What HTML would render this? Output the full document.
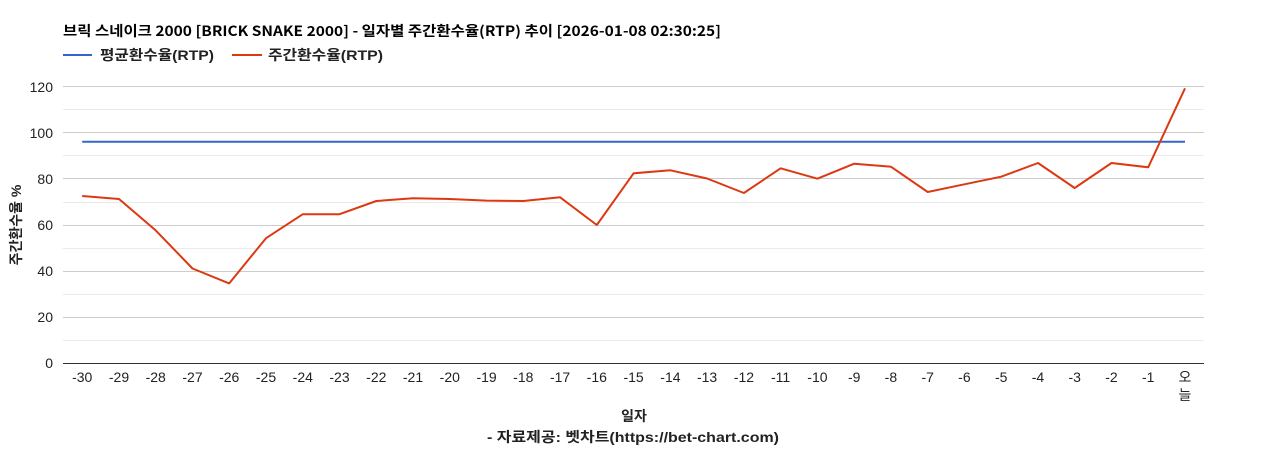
<!DOCTYPE html>
<html><head><meta charset="utf-8"><style>
html,body{margin:0;padding:0;background:#fff;width:1268px;height:450px;overflow:hidden}
svg{display:block}
</style></head><body>
<svg width="1268" height="450" xmlns="http://www.w3.org/2000/svg">
<text x="63" y="36" font-family="'Noto Sans CJK KR','Liberation Sans',sans-serif" font-weight="bold" font-size="14" fill="#000" textLength="658" lengthAdjust="spacingAndGlyphs">브릭 스네이크 2000 [BRICK SNAKE 2000] - 일자별 주간환수율(RTP) 추이 [2026-01-08 02:30:25]</text>
<line x1="63" y1="55" x2="92" y2="55" stroke="#3366cc" stroke-width="2"/>
<text x="100" y="60" font-family="'Liberation Sans','Noto Sans CJK KR',sans-serif" font-weight="bold" font-size="14" fill="#222" textLength="114" lengthAdjust="spacingAndGlyphs">평균환수율(RTP)</text>
<line x1="232" y1="55" x2="262" y2="55" stroke="#dc3912" stroke-width="2"/>
<text x="268" y="60" font-family="'Liberation Sans','Noto Sans CJK KR',sans-serif" font-weight="bold" font-size="14" fill="#222" textLength="115" lengthAdjust="spacingAndGlyphs">주간환수율(RTP)</text>
<g stroke="#ebebeb" stroke-width="1">
<line x1="63" x2="1204" y1="340.5" y2="340.5"/><line x1="63" x2="1204" y1="294.5" y2="294.5"/><line x1="63" x2="1204" y1="248.5" y2="248.5"/><line x1="63" x2="1204" y1="202.5" y2="202.5"/><line x1="63" x2="1204" y1="155.5" y2="155.5"/><line x1="63" x2="1204" y1="109.5" y2="109.5"/>
</g>
<g stroke="#cccccc" stroke-width="1">
<line x1="63" x2="1204" y1="317.5" y2="317.5"/><line x1="63" x2="1204" y1="271.5" y2="271.5"/><line x1="63" x2="1204" y1="225.5" y2="225.5"/><line x1="63" x2="1204" y1="178.5" y2="178.5"/><line x1="63" x2="1204" y1="132.5" y2="132.5"/><line x1="63" x2="1204" y1="86.5" y2="86.5"/>
</g>
<line x1="63" x2="1204" y1="363.5" y2="363.5" stroke="#333" stroke-width="1"/>
<g font-family="'Liberation Sans',sans-serif" font-size="14" fill="#222" text-anchor="end">
<text x="53" y="368">0</text><text x="53" y="322">20</text><text x="53" y="276">40</text><text x="53" y="230">60</text><text x="53" y="184">80</text><text x="53" y="138">100</text><text x="53" y="92">120</text>
</g>
<text transform="translate(21,225) rotate(-90)" text-anchor="middle" font-family="'Liberation Sans','Noto Sans CJK KR',sans-serif" font-weight="bold" font-size="14" fill="#222">주간환수율 %</text>
<g font-family="'Liberation Sans','Noto Sans CJK KR',sans-serif" font-size="14" fill="#222" text-anchor="middle">
<text x="82.2" y="382">-30</text><text x="119" y="382">-29</text><text x="155.7" y="382">-28</text><text x="192.5" y="382">-27</text><text x="229.2" y="382">-26</text><text x="266" y="382">-25</text><text x="302.8" y="382">-24</text><text x="339.5" y="382">-23</text><text x="376.3" y="382">-22</text><text x="413" y="382">-21</text><text x="449.8" y="382">-20</text><text x="486.6" y="382">-19</text><text x="523.3" y="382">-18</text><text x="560.1" y="382">-17</text><text x="596.8" y="382">-16</text><text x="633.6" y="382">-15</text><text x="670.4" y="382">-14</text><text x="707.1" y="382">-13</text><text x="743.9" y="382">-12</text><text x="780.6" y="382">-11</text><text x="817.4" y="382">-10</text><text x="854.2" y="382">-9</text><text x="890.9" y="382">-8</text><text x="927.7" y="382">-7</text><text x="964.4" y="382">-6</text><text x="1001.2" y="382">-5</text><text x="1038" y="382">-4</text><text x="1074.7" y="382">-3</text><text x="1111.5" y="382">-2</text><text x="1148.2" y="382">-1</text><text x="1185" y="382">오</text><text x="1185" y="400">늘</text>
</g>
<text x="634" y="421" text-anchor="middle" font-family="'Liberation Sans','Noto Sans CJK KR',sans-serif" font-weight="bold" font-size="14" fill="#222">일자</text>
<text x="487" y="442" font-family="'Liberation Sans','Noto Sans CJK KR',sans-serif" font-weight="bold" font-size="14" fill="#222" textLength="292" lengthAdjust="spacingAndGlyphs">- 자료제공: 벳차트(https://bet-chart.com)</text>
<line x1="82.2" x2="1185" y1="141.7" y2="141.7" stroke="#3366cc" stroke-width="2"/>
<polyline fill="none" stroke="#dc3912" stroke-width="2" stroke-linejoin="round" points="82.2,196 119,199 155.7,230.4 192.5,268.5 229.2,283.4 266,238.2 302.8,214.2 339.5,214.2 376.3,201 413,198.3 449.8,199 486.6,200.6 523.3,201 560.1,197.3 596.8,225 633.6,173.3 670.4,170.3 707.1,178.5 743.9,193 780.6,168.3 817.4,178.7 854.2,163.7 890.9,166.7 927.7,192 964.4,184.3 1001.2,176.7 1038,163 1074.7,188 1111.5,163 1148.2,167.3 1185,88.3"/>
</svg>
</body></html>
